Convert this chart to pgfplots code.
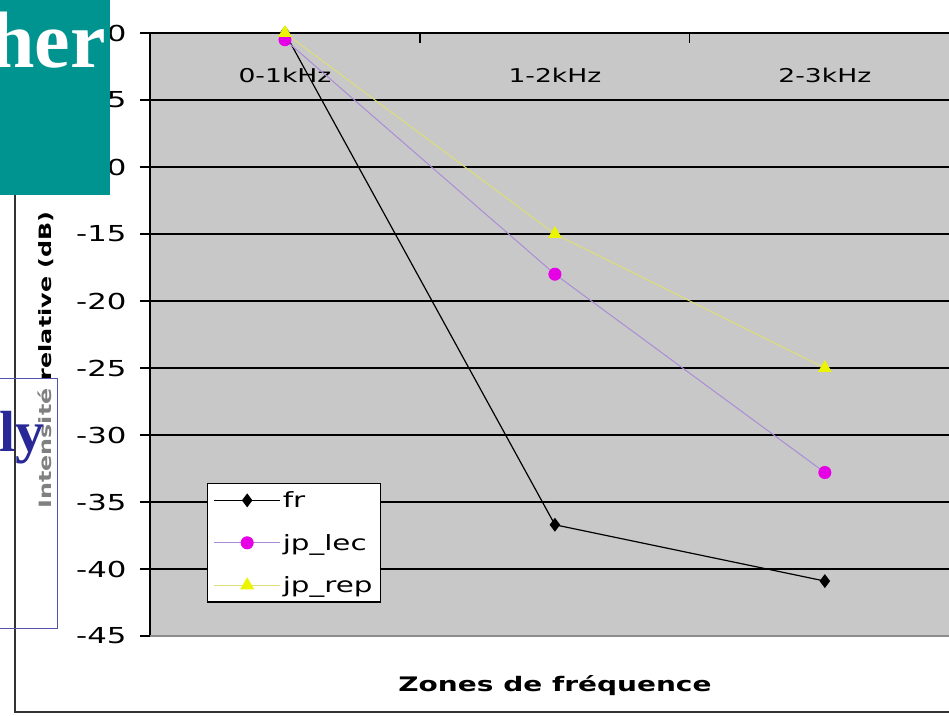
\documentclass[border=0pt]{standalone}
\usepackage{pgfplots}
\pgfplotsset{compat=1.18}
\usepackage{fontspec}
\setmainfont{DejaVu Sans}
\newfontfamily\chartfont[FakeStretch=1.4]{DejaVu Sans}
\newfontfamily\serifb{Liberation Serif}
\definecolor{plotgray}{RGB}{200,200,200}
\definecolor{tealc}{RGB}{0,148,145}
\definecolor{lecline}{RGB}{170,140,215}
\definecolor{lecmark}{RGB}{230,0,230}
\definecolor{repline}{RGB}{222,222,120}
\definecolor{repmark}{RGB}{235,245,0}
\definecolor{lyblue}{RGB}{40,40,150}
\begin{document}
\begin{tikzpicture}
\path[use as bounding box] (0pt,0pt) rectangle (949pt,715pt);
\fill[white] (0pt,0pt) rectangle (949pt,715pt);
\draw[black!80, line width=1.5pt] (15pt,715pt) -- (15pt,3pt) -- (949pt,3pt);
\begin{axis}[
  at={(150pt,79pt)}, anchor=south west,
  scale only axis, width=799pt, height=603pt,
  xmin=-0.5, xmax=2.46, ymin=-45, ymax=0,
  axis x line*=top, axis y line*=left,
  axis line style={line width=1.5pt},
  axis background/.style={fill=plotgray},
  clip=false,
  xtick={0.5,1.5}, xticklabels={},
  xtick align=inside, ytick align=outside,
  major tick length=10pt,
  tick style={black, line width=1.2pt},
  extra x ticks={0,1,2},
  extra x tick labels={0-1kHz,1-2kHz,2-3kHz},
  extra x tick style={major tick length=0pt},
  xticklabel style={anchor=north, yshift=-32pt, font=\chartfont\fontsize{19}{19}\selectfont},
  ytick={-40,-35,-30,-25,-20,-15,-10,-5,0},
  yticklabels={-40,-35,-30,-25,-20,-15,-10,-5,0},
  extra y ticks={-45}, extra y tick labels={-45},
  extra y tick style={grid=none},
  yticklabel style={xshift=-10pt, font=\chartfont\fontsize{22}{22}\selectfont},
  ymajorgrids, grid style={black, line width=1.5pt},
  legend style={at={(rel axis cs:0.0713,0.2537)}, anchor=north west, draw=black, line width=1.2pt, fill=white,
    font=\chartfont\fontsize{21}{21}\selectfont, row sep=21pt, inner sep=6pt},
  legend cell align=left,
  legend image code/.code={\draw[mark repeat=2,mark phase=2] plot coordinates {(0pt,0pt)(33pt,0pt)(66pt,0pt)};},
]
\addplot[black, line width=1.2pt, mark=diamond*, mark size=6pt, mark options={fill=black}]
  coordinates {(0,0) (1,-36.7) (2,-40.9)};
\addlegendentry{fr}
\addplot[lecline, line width=1pt, mark=*, mark size=6pt, mark options={fill=lecmark, draw=lecmark}]
  coordinates {(0,-0.5) (1,-18) (2,-32.8)};
\addlegendentry{jp\_lec}
\addplot[repline, line width=1pt, mark=triangle*, mark size=7pt, mark options={fill=repmark, draw=repmark}]
  coordinates {(0,0) (1,-15) (2,-25)};
\addlegendentry{jp\_rep}
\draw[black!45, line width=2.5pt] (rel axis cs:0,0) -- (rel axis cs:1,0);
\end{axis}
\node[rotate=90, anchor=west, font=\chartfont\bfseries\fontsize{17}{17}\selectfont] at (46pt,203pt) {\textcolor{gray}{Intensité} relative (dB)};
\node[font=\chartfont\bfseries\fontsize{20}{20}\selectfont] at (555pt,29pt) {Zones de fréquence};
\fill[tealc] (0pt,520pt) rectangle (110pt,715pt);
\node[anchor=base east, text=white, inner sep=0pt, font=\serifb\bfseries\fontsize{80}{80}\selectfont] at (106pt,647pt) {her};
\draw[lyblue!80, line width=0.8pt] (-2pt,87pt) rectangle (57pt,337pt);
\node[anchor=base east, text=lyblue, inner sep=0pt, font=\serifb\bfseries\fontsize{58}{58}\selectfont] at (45pt,263pt) {ly};
\end{tikzpicture}
\end{document}
